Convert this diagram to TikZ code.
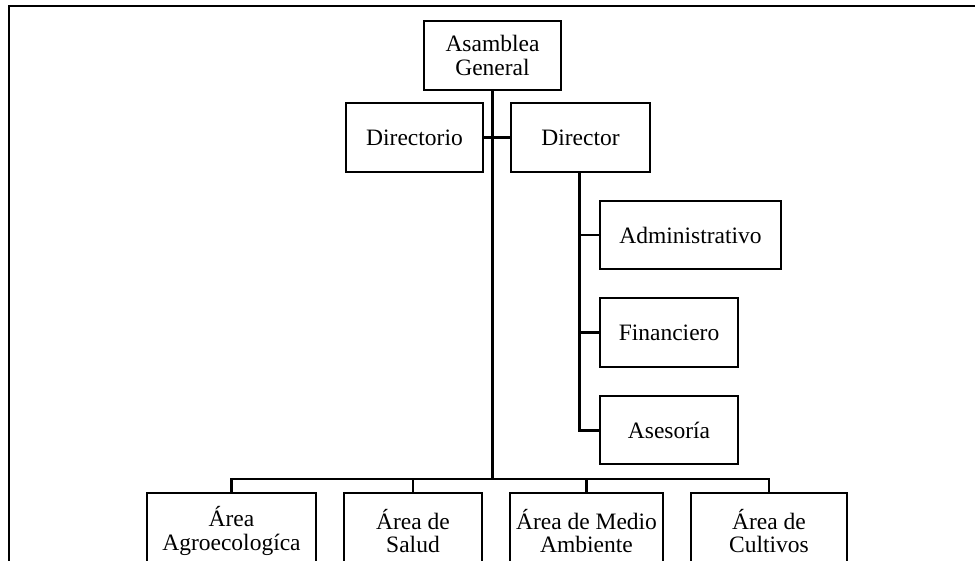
\documentclass[tikz,border=0pt]{standalone}
\usepackage{fontspec}
\setmainfont{Liberation Serif}
\begin{document}
\begin{tikzpicture}
        [x=1pt, y=-1pt,
        box/.style={rectangle, draw, line width=2.1pt, inner sep=0pt, align=center,
                    font=\fontsize{23.5}{23.5}\selectfont},
        link/.style={line width=2.2pt, black},
        trunk/.style={line width=3.3pt, black},
        branch/.style={line width=3pt, black},
        bus/.style={line width=2.8pt, black}]

        \useasboundingbox (0,0) rectangle (975,560);
        \clip (0,0) rectangle (975,560);

        % outer frame, cut on the right and at the bottom
        \draw[line width=2.6pt] (9,6) rectangle (1000,620);

        \node[box, minimum width=137, minimum height=69] (asam) at (492.5,55.5) {Asamblea\\General};
        \node[box, minimum width=137, minimum height=69] (dirio) at (414.5,137.5) {Directorio};
        \node[box, minimum width=139, minimum height=69] (dir) at (580.5,137.5) {Director};
        \node[box, minimum width=181, minimum height=68] (adm) at (690.5,235) {Administrativo};
        \node[box, minimum width=138, minimum height=69] (fin) at (669,332.5) {Financiero};
        \node[box, minimum width=138, minimum height=68] (ases) at (669,430) {Asesoría};

        % areas, cut at the bottom
        \node[box, minimum width=169, minimum height=76] (agro) at (231.5,531) {Área\\Agroecologíca};
        \node[box, minimum width=138, minimum height=76] (salud) at (413,531) {Área de\\Salud};
        \node[box, minimum width=153, minimum height=76] (medio) at (586.5,531) {Área de Medio\\Ambiente};
        \node[box, minimum width=156, minimum height=76] (cult) at (769,531) {Área de\\Cultivos};

        \coordinate (bus) at (492.5,479);

        % main line
        \draw[trunk] (asam) -- (bus);
        \draw[link] (dirio) -- (dir);

        % director's units
        \draw[branch] ([xshift=-1.5pt]dir.south) |- (ases.west);
        \draw[link] (ases.west -| 579,0) |- (adm.west);
        \draw[link] (579,332.5) -- (fin.west);

        % areas
        \draw[bus] (agro.north) |- (bus) -| (cult.north);
        \draw[link] (salud.north) -- (salud.north |- bus);
        \draw[link] (medio.north) -- (medio.north |- bus);

    \end{tikzpicture}
\end{document}
